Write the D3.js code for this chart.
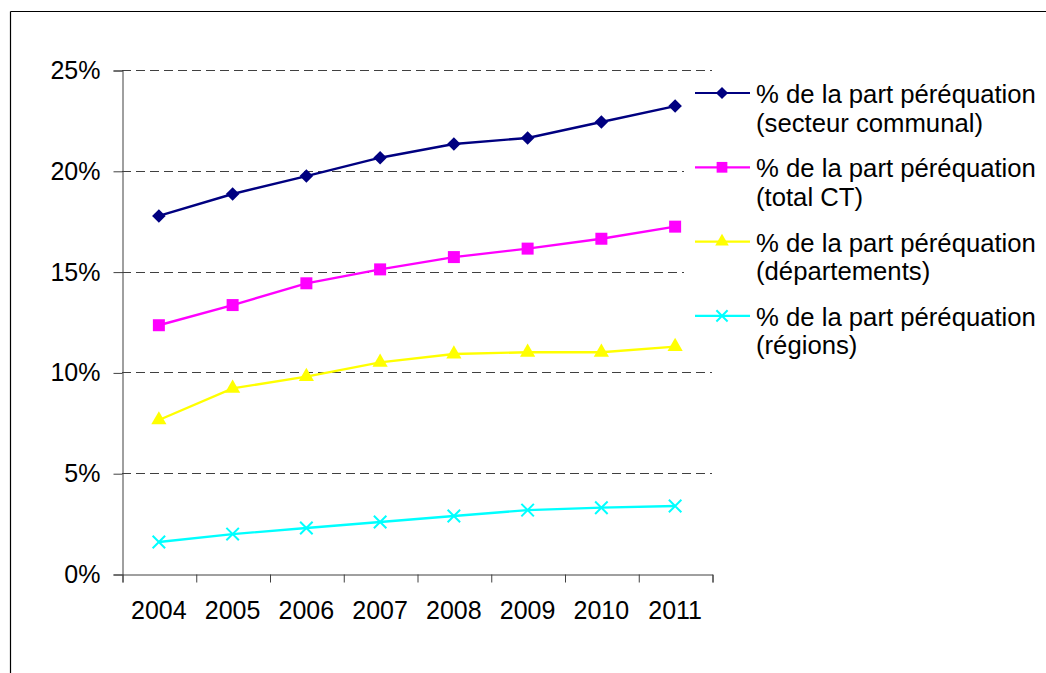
<!DOCTYPE html>
<html>
<head>
<meta charset="utf-8">
<script src="https://cdn.jsdelivr.net/npm/d3@7"></script>
<style>
  html, body { margin: 0; padding: 0; background: #fff; }
  svg { display: block; font-family: "Liberation Sans", Arial, sans-serif; }
</style>
</head>
<body>
<svg id="chart" width="1046" height="673"></svg>
<script>
// Years on the horizontal axis
const years = ["2004", "2005", "2006", "2007", "2008", "2009", "2010", "2011"];

// Share of the equalisation part, by level of local government (fractions)
const secteurCommunal = [0.1776, 0.1885, 0.1974, 0.2065, 0.2133, 0.2163, 0.2242, 0.2321];
const totalCT         = [0.1234, 0.1334, 0.1442, 0.1511, 0.1572, 0.1614, 0.1663, 0.1723];
const departements    = [0.0764, 0.0921, 0.0979, 0.1050, 0.1091, 0.1100, 0.1100, 0.1128];
const regions         = [0.0159, 0.0198, 0.0228, 0.0258, 0.0288, 0.0317, 0.0329, 0.0337];

// Y axis tick values
const yTicks = [0, 0.05, 0.10, 0.15, 0.20, 0.25];

// Legend labels (two lines each)
const legendLabels = [
  ["% de la part péréquation", "(secteur communal)"],
  ["% de la part péréquation", "(total CT)"],
  ["% de la part péréquation", "(départements)"],
  ["% de la part péréquation", "(régions)"]
];

// Custom "x" marker
const symbolCrossX = {
  draw(ctx, size) {
    const r = Math.sqrt(size) / 2;
    ctx.moveTo(-r, -r); ctx.lineTo(r, r);
    ctx.moveTo(-r, r); ctx.lineTo(r, -r);
  }
};

const series = [
  { values: secteurCommunal, color: "#000080", type: d3.symbolSquare, size: 92, rotate: 45, filled: true },
  { values: totalCT,         color: "#FF00FF", type: d3.symbolSquare, size: 144, rotate: 0, filled: true },
  { values: departements,    color: "#FFFF00", type: d3.symbolTriangle, size: 100, rotate: 0, filled: true },
  { values: regions,         color: "#00FFFF", type: symbolCrossX, size: 156, rotate: 0, filled: false }
];

const svg = d3.select("#chart");
const FONT = 25;
const LEGEND_FONT = 25.7;

const plot = { left: 122, right: 712, top: 70, bottom: 574 };

const x = d3.scaleBand().domain(years).range([plot.left, plot.right]).padding(0);
const xEdges = d3.scaleLinear().domain([0, years.length]).range([plot.left, plot.right]);
const y = d3.scaleLinear().domain([0, 0.25]).range([plot.bottom, plot.top]);
const cx = d => x(d) + x.bandwidth() / 2;

// Outer frame (top and left edges)
svg.append("line").attr("x1", 10.5).attr("x2", 1046).attr("y1", 11.5).attr("y2", 11.5)
  .attr("stroke", "#000").attr("stroke-width", 1.2);
svg.append("line").attr("x1", 10.5).attr("x2", 10.5).attr("y1", 11.5).attr("y2", 673)
  .attr("stroke", "#000").attr("stroke-width", 1.2);

// Dashed horizontal gridlines
svg.append("g").selectAll("line")
  .data(yTicks.filter(t => t > 0))
  .join("line")
  .attr("x1", plot.left).attr("x2", plot.right)
  .attr("y1", d => Math.round(y(d)) + 0.5).attr("y2", d => Math.round(y(d)) + 0.5)
  .attr("stroke", "#404040").attr("stroke-width", 1)
  .attr("stroke-dasharray", "9,5");

// Y axis
const yAxis = svg.append("g")
  .attr("transform", `translate(${plot.left + 0.5},0.5)`)
  .call(d3.axisLeft(y).tickValues(yTicks).tickSize(9).tickPadding(13)
    .tickFormat(d3.format(".0%")));
yAxis.select(".domain").attr("stroke", "#404040");
yAxis.selectAll(".tick line").attr("stroke", "#404040");
yAxis.selectAll("text").attr("font-size", FONT).attr("font-family", "Liberation Sans, Arial, sans-serif").attr("fill", "#000");

// X axis: boundary ticks
const xAxisTicks = svg.append("g")
  .attr("transform", `translate(0.5,${plot.bottom + 0.5})`)
  .call(d3.axisBottom(xEdges).ticks(years.length).tickSize(8).tickFormat(""));
xAxisTicks.select(".domain").attr("stroke", "#404040");
xAxisTicks.selectAll(".tick line").attr("stroke", "#404040");

// X axis: category labels
const xAxisLabels = svg.append("g")
  .attr("transform", `translate(0,${plot.bottom})`)
  .call(d3.axisBottom(x).tickSize(0).tickPadding(27));
xAxisLabels.select(".domain").remove();
xAxisLabels.selectAll("text").attr("font-size", FONT).attr("font-family", "Liberation Sans, Arial, sans-serif").attr("fill", "#000");

// Legend background covers the gridlines behind it
svg.append("rect").attr("x", 684).attr("y", 78).attr("width", 362).attr("height", 288).attr("fill", "#fff");

// Series lines and markers
const line = d3.line().x((d, i) => cx(years[i])).y(d => y(d));
const symbolPath = s => d3.symbol().type(s.type).size(s.size)();

series.forEach(s => {
  svg.append("path").datum(s.values)
    .attr("d", line)
    .attr("fill", "none").attr("stroke", s.color).attr("stroke-width", 2.4);

  svg.append("g").selectAll("path")
    .data(s.values)
    .join("path")
    .attr("transform", (d, i) => `translate(${cx(years[i])},${y(d)}) rotate(${s.rotate})`)
    .attr("d", symbolPath(s))
    .attr("fill", s.filled ? s.color : "none")
    .attr("stroke", s.filled ? "none" : s.color)
    .attr("stroke-width", 2);
});

// Legend
const legend = svg.append("g");
series.forEach((s, i) => {
  const ly = 93 + i * 74.3;
  const g = legend.append("g").attr("transform", `translate(0,${ly})`);
  g.append("line").attr("x1", 695).attr("x2", 750).attr("y1", 0).attr("y2", 0)
    .attr("stroke", s.color).attr("stroke-width", 2.2);
  g.append("path")
    .attr("transform", `translate(722,0) rotate(${s.rotate})`)
    .attr("d", d3.symbol().type(s.type).size(s.size * 0.8)())
    .attr("fill", s.filled ? s.color : "none")
    .attr("stroke", s.filled ? "none" : s.color)
    .attr("stroke-width", 2);
  const t = g.append("text").attr("x", 756).attr("font-size", LEGEND_FONT).attr("fill", "#000");
  legendLabels[i].forEach((txt, k) => {
    t.append("tspan").attr("x", 756).attr("y", 10 + k * 28.5).text(txt);
  });
});
</script>
</body>
</html>
